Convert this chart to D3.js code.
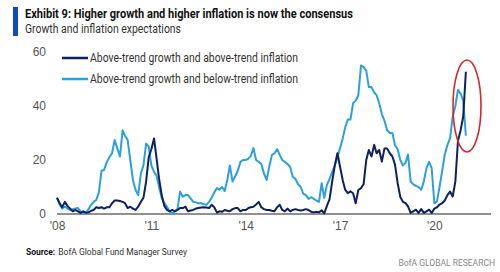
<!DOCTYPE html>
<html>
<head>
<meta charset="utf-8">
<script src="https://cdn.jsdelivr.net/npm/d3@7"></script>
<style>
  body { margin: 0; background: #fff; }
  svg { display: block; font-family: "Liberation Sans Narrow", "Roboto", sans-serif; }
</style>
</head>
<body>
<svg id="chart" width="500" height="272"></svg>
<script>
// monthly survey readings, Jan 2008 .. Jan 2021 (% of respondents)
const startMonth = new Date(2008, 0, 1);
const endMonth = new Date(2021, 0, 2);

const belowInflation = [
  6, 3.5, 2, 2.8, 2, 1.5, 1.8, 2, 2.2, 1, 0.5, 0.3,
  1.8, 3.4, 4.5, 5.2, 8, 16, 16.3, 19.3, 21, 22.5, 27.4, 24.3,
  21.3, 31, 29, 27.4, 20, 12.6, 9, 7, 15, 18, 26, 25,
  18, 15.6, 14.3, 10, 6, 4, 2.7, 1, 0, 1, 2, 8.3,
  6.4, 7, 7, 5.8, 4.5, 4.3, 4, 4, 3.6, 3.4, 4.5, 6,
  8, 9.6, 9, 10, 8.5, 12.6, 18, 12, 14, 16, 19.3, 20,
  20, 20.5, 21.5, 24.4, 20, 19.3, 18.5, 15, 12.6, 17.5, 21.8, 22.5,
  24, 21.8, 20, 19.3, 18.5, 17.5, 13.8, 13, 11, 10, 7.5, 7,
  5.6, 6.2, 5.6, 5, 4.5, 11.4, 6, 10.8, 13, 15.6, 18, 21,
  24.4, 28, 32, 35, 35, 41, 42, 44, 55, 54.5, 53, 47,
  47, 45, 44, 41, 37, 34.5, 31, 30, 30, 25.5, 24, 20,
  18, 19, 22, 12, 11, 10.4, 10, 9, 12, 17, 19.3, 17,
  4, 4.7, 10, 16, 22, 25.6, 28, 36, 40, 46, 44.6, 42,
  29
];

const aboveInflation = [
  6, 4, 2.5, 4.5, 3, 2, 1, 1.5, 1, 0.4, 1, 0.5,
  0.6, 1.2, 1.5, 2.5, 2.2, 2.5, 2, 2.5, 2.5, 4, 5, 5,
  4.8, 4.5, 4, 2.2, 2.7, 2, 1.5, 2.7, 4.5, 6, 12, 21,
  24, 28, 21, 13, 7, 3, 1.5, 1, 1.5, 1, 1.5, 2.2,
  2.2, 2.7, 1, 1.3, 1.5, 2, 2.2, 2.4, 2.5, 2.4, 2.2, 3.4,
  2.5, 0.5, 1, 0.8, 1.5, 1.2, 1, 1.8, 2.2, 2.2, 1, 1.5,
  1.5, 2.2, 2.5, 2.7, 3.5, 4.5, 2.5, 1.8, 1.5, 1.5, 1.2, 1,
  2.5, 3.4, 1.5, 1, 2, 1, 1.5, 1.8, 1.5, 1.3, 1.5, 1.8,
  1.5, 0.8, 0.6, 0.8, 0.6, 1.4, 0.2, 3, 5.5, 12, 18, 22.5,
  17.5, 12.5, 9, 7.7, 8.4, 7.7, 4, 8.9, 9.6, 11, 20, 23.7,
  21.3, 25.6, 22.5, 23.7, 19.4, 24.3, 24.3, 22.5, 21.3, 18.3, 11.4, 6.4,
  4.5, 4, 2.8, 0.4, 1, 1.6, 0.4, 1.8, 0.4, 1, 1.6, 0.4,
  2, 2.5, 3.5, 4, 5, 7, 8.3, 6.5, 12, 27, 31, 36,
  52.7
];

const seriesNames = [
  "Above-trend growth and above-trend inflation",
  "Above-trend growth and below-trend inflation"
];
const seriesColors = ["#0d2160", "#2ba1dc"];
const yTicks = [0, 20, 40, 60];
const xTickYears = [2008, 2011, 2014, 2017, 2020];

const months = d3.timeMonth.range(startMonth, endMonth);

const svg = d3.select("#chart");

const x = d3.scaleTime()
    .domain([new Date(2008, 0, 1), new Date(2021, 9, 20)])
    .range([57, 491]);

const y = d3.scaleLinear()
    .domain([0, 60])
    .range([214, 52]);

// header
svg.append("rect")
    .attr("x", 13).attr("y", 7)
    .attr("width", 5).attr("height", 29)
    .attr("fill", "#0b4dbd");

svg.append("text")
    .attr("x", 25).attr("y", 18)
    .attr("font-size", 12)
    .attr("font-weight", "bold")
    .attr("fill", "#111")
    .attr("textLength", 328)
    .attr("lengthAdjust", "spacingAndGlyphs")
    .text("Exhibit 9: Higher growth and higher inflation is now the consensus");

svg.append("text")
    .attr("x", 25).attr("y", 33)
    .attr("font-size", 12)
    .attr("fill", "#333")
    .attr("textLength", 156)
    .attr("lengthAdjust", "spacingAndGlyphs")
    .text("Growth and inflation expectations");

// axes
const yAxis = svg.append("g")
    .attr("transform", "translate(46,0)")
    .call(d3.axisLeft(y).tickValues(yTicks).tickSize(0).tickPadding(0));
yAxis.select(".domain").remove();
yAxis.selectAll("text")
    .attr("font-size", 12)
    .attr("font-family", "Liberation Sans Narrow, sans-serif")
    .attr("fill", "#555");

const xAxis = svg.append("g")
    .attr("transform", "translate(0,219)")
    .call(d3.axisBottom(x)
        .tickValues(xTickYears.map(yr => new Date(yr, 0, 1)))
        .tickFormat(d3.timeFormat("'%y"))
        .tickSize(0).tickPadding(2));
xAxis.select(".domain").remove();
xAxis.selectAll("text")
    .attr("font-size", 12)
    .attr("font-family", "Liberation Sans Narrow, sans-serif")
    .attr("fill", "#555");

svg.append("line")
    .attr("x1", x.range()[0]).attr("x2", x.range()[1])
    .attr("y1", y(0)).attr("y2", y(0))
    .attr("stroke", "#222")
    .attr("stroke-width", 1.2);

// lines
const line = d3.line()
    .x((d, i) => x(months[i]))
    .y(d => y(d));

svg.append("path")
    .datum(belowInflation)
    .attr("d", line)
    .attr("fill", "none")
    .attr("stroke", seriesColors[1])
    .attr("stroke-width", 2)
    .attr("stroke-linejoin", "round");

svg.append("path")
    .datum(aboveInflation)
    .attr("d", line)
    .attr("fill", "none")
    .attr("stroke", seriesColors[0])
    .attr("stroke-width", 2)
    .attr("stroke-linejoin", "round");

// legend
const legend = svg.append("g");
seriesNames.forEach((name, i) => {
    const ly = 58 + i * 21;
    legend.append("line")
        .attr("x1", 62).attr("x2", 88)
        .attr("y1", ly).attr("y2", ly)
        .attr("stroke", seriesColors[i])
        .attr("stroke-width", 2.5);
    legend.append("text")
        .attr("x", 90).attr("y", ly + 4)
        .attr("font-size", 12)
        .attr("fill", "#333")
        .attr("textLength", 208)
        .attr("lengthAdjust", "spacingAndGlyphs")
        .text(name);
});

// highlight ellipse
svg.append("ellipse")
    .attr("cx", 467).attr("cy", 106)
    .attr("rx", 14).attr("ry", 46)
    .attr("fill", "none")
    .attr("stroke", "#d7262b")
    .attr("stroke-width", 1.6);

// footer
const src = svg.append("text")
    .attr("x", 26).attr("y", 255)
    .attr("font-size", 8.5)
    .attr("fill", "#333");
src.append("tspan").attr("font-weight", "bold").attr("fill", "#111").text("Source:");
src.append("tspan").attr("dx", 3).text("BofA Global Fund Manager Survey");

svg.append("text")
    .attr("x", 495).attr("y", 266)
    .attr("text-anchor", "end")
    .attr("font-size", 8.5)
    .attr("fill", "#888")
    .text("BofA GLOBAL RESEARCH");
</script>
</body>
</html>
